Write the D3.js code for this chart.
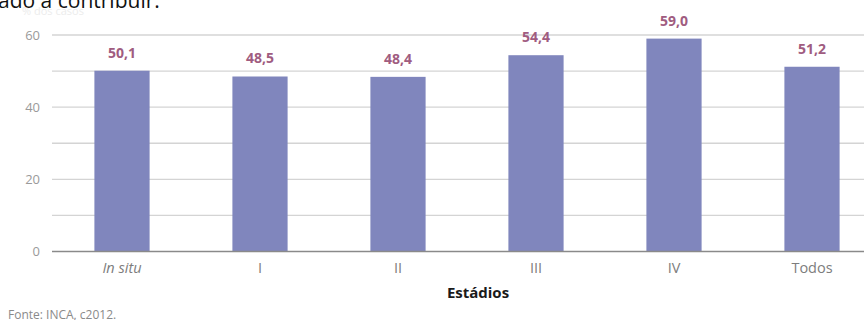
<!DOCTYPE html>
<html>
<head>
<meta charset="utf-8">
<script src="https://cdn.jsdelivr.net/npm/d3@7"></script>
<style>
  body { margin: 0; background: #fff; }
  svg { display: block; font-family: "Open Sans", "Noto Sans", sans-serif; }
</style>
</head>
<body>
<div id="chart"></div>
<script>
// chart data
var categories = ["In situ", "I", "II", "III", "IV", "Todos"];
var values = [50.1, 48.5, 48.4, 54.4, 59.0, 51.2];
var yTicks = [0, 20, 40, 60];
var gridTicks = [0, 10, 20, 30, 40, 50, 60];

// layout constants
var width = 864,
    height = 320,
    left = 52,
    top0 = 35,
    bottom0 = 251.5;

var barColor = "#8086bd",
    labelColor = "#a05c80",
    gridColor = "#d4d4d4",
    tickColor = "#9a9a9a";

var svg = d3.select("#chart")
  .append("svg")
    .attr("width", width)
    .attr("height", height);

var x = d3.scaleBand()
    .domain(categories)
    .range([53, 881])
    .paddingInner(0.6)
    .paddingOuter(0.3);

var y = d3.scaleLinear()
    .domain([0, 60])
    .range([bottom0, top0]);

// title remnants cut at the top
svg.append("text")
    .attr("x", 22)
    .attr("y", 15)
    .attr("font-size", 11)
    .attr("fill", "#ececec")
    .text("% dos casos");

svg.append("text")
    .attr("x", -2)
    .attr("y", 8)
    .attr("font-size", 21)
    .attr("fill", "#111")
    .text("ado a contribuir.");

// gridlines
svg.selectAll("line.grid")
    .data(gridTicks.filter(function(d) { return d > 0; }))
    .enter()
    .append("line")
    .attr("class", "grid")
    .attr("x1", left)
    .attr("x2", width)
    .attr("y1", function(d) { return y(d); })
    .attr("y2", function(d) { return y(d); })
    .attr("stroke", gridColor)
    .attr("stroke-width", 1.3);

// y tick labels
svg.selectAll("text.ytick")
    .data(yTicks)
    .enter()
    .append("text")
    .attr("class", "ytick")
    .attr("x", 40)
    .attr("y", function(d) { return y(d); })
    .attr("dy", "0.35em")
    .attr("text-anchor", "end")
    .attr("font-size", 13)
    .attr("fill", tickColor)
    .text(function(d) { return d; });

// bars
svg.selectAll("rect.bar")
    .data(values)
    .enter()
    .append("rect")
    .attr("class", "bar")
    .attr("x", function(d, i) { return x(categories[i]); })
    .attr("width", x.bandwidth())
    .attr("y", function(d) { return y(d); })
    .attr("height", function(d) { return y(0) - y(d); })
    .attr("fill", barColor);

// value labels
svg.selectAll("text.val")
    .data(values)
    .enter()
    .append("text")
    .attr("class", "val")
    .attr("x", function(d, i) { return x(categories[i]) + x.bandwidth() / 2; })
    .attr("y", function(d) { return y(d) - 13; })
    .attr("text-anchor", "middle")
    .attr("font-size", 14)
    .attr("font-weight", "bold")
    .attr("fill", labelColor)
    .text(function(d) { return d.toFixed(1).replace(".", ","); });

// baseline
svg.append("line")
    .attr("x1", left)
    .attr("x2", width)
    .attr("y1", y(0))
    .attr("y2", y(0))
    .attr("stroke", "#8a8a8a")
    .attr("stroke-width", 1.5);

// category labels
svg.selectAll("text.cat")
    .data(categories)
    .enter()
    .append("text")
    .attr("class", "cat")
    .attr("x", function(d) { return x(d) + x.bandwidth() / 2; })
    .attr("y", 273)
    .attr("text-anchor", "middle")
    .attr("font-size", 14.5)
    .attr("font-style", function(d, i) { return i == 0 ? "italic" : "normal"; })
    .attr("fill", "#7d7d7d")
    .text(function(d) { return d; });

// x axis title
svg.append("text")
    .attr("x", 478)
    .attr("y", 298)
    .attr("text-anchor", "middle")
    .attr("font-size", 15)
    .attr("font-weight", "bold")
    .attr("fill", "#1a1a1a")
    .text("Estádios");

// source
svg.append("text")
    .attr("x", 8)
    .attr("y", 319)
    .attr("font-size", 12)
    .attr("fill", "#8a8a8a")
    .text("Fonte: INCA, c2012.");
</script>
</body>
</html>
